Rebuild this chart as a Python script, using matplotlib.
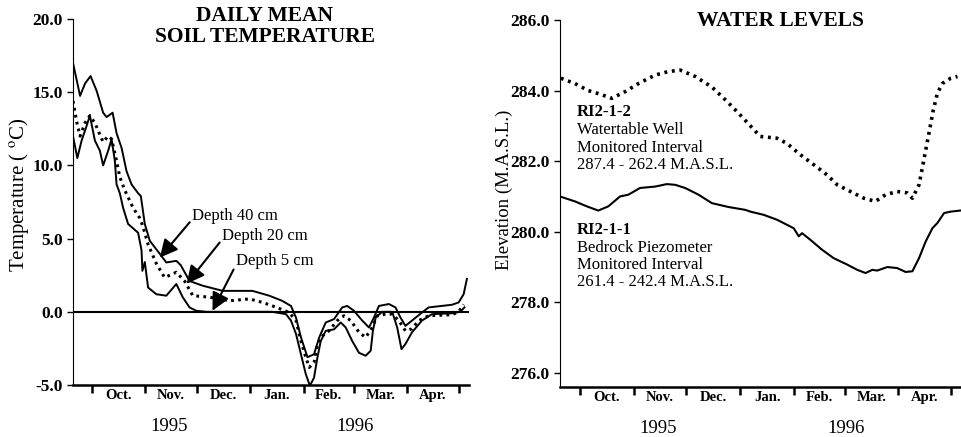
import numpy as np
from matplotlib import pyplot as plt

plt.rcParams['font.family'] = ['Liberation Serif', 'DejaVu Serif']
plt.rcParams['mathtext.fontset'] = 'stix'

# days counted from 1 Oct 1995
month_edges = [0, 31, 61, 92, 123, 152, 183, 213]
month_names = ['Oct.', 'Nov.', 'Dec.', 'Jan.', 'Feb.', 'Mar.', 'Apr.']
years = ['1995', '1996']
year_pos = [45, 153]

# daily mean soil temperature (deg C)
d40_day = [-11, -6.9, -4, -0.8, 2.7, 6.5, 8.5, 12, 14.3, 17.2, 20.1, 23, 26.8, 28.4, 30.7,
           33.6, 39.4, 43.2, 49, 51.5, 56.7, 64.4, 76, 85.6, 93.2, 103, 110.5, 115.6, 118.5,
           121.4, 125.2, 129, 132, 135.8, 140.6, 145.4, 148.3, 152.2, 157, 160.9, 163.8,
           166.7, 172.5, 176.3, 179.2, 182.1, 185.9, 191.7, 195.6, 209.1, 213, 215.9, 217.8]
d40_temp = [17.0, 14.75, 15.6, 16.1, 15.1, 13.6, 13.3, 13.6, 12.2, 11.2, 9.6, 8.7, 8.1, 7.9, 6.0,
            4.85, 3.96, 3.37, 3.48, 3.2, 2.1, 1.78, 1.43, 1.43, 1.43, 1.1, 0.75, 0.4, -0.39,
            -1.75, -3.1, -2.9, -1.75, -0.73, -0.5, 0.3, 0.4, 0.07, -0.6, -1.07, -0.39,
            0.4, 0.53, 0.3, -0.39, -0.96, -0.6, -0.05, 0.3, 0.48, 0.64, 1.2, 2.25]

d20_day = [-11, -8.9, -6.9, -4, -1.2, 1.7, 4.6, 6.5, 9.4, 11.4, 14.3, 16.2, 19.1, 23.9, 27.8,
           29.7, 32.6, 37.4, 42.2, 49, 53.8, 58.6, 68.3, 79.9, 91.4, 99.1, 104.9, 109.8, 114.6,
           118.5, 121.4, 124.2, 126.2, 129, 131, 133.9, 137.7, 142.5, 146.4, 150.3, 155.1, 159,
           162.8, 165.7, 170.5, 174.4, 178.2, 182.1, 185.9, 189.8, 195.6, 209.1, 213, 215.9]
d20_temp = [14.4, 13.0, 12.0, 12.9, 13.4, 12.9, 12.1, 11.6, 12.0, 11.8, 10.3, 9.2, 8.3, 7.1, 6.4,
            5.8, 4.6, 3.3, 2.34, 2.7, 2.1, 1.1, 1.0, 0.75, 0.88, 0.64, 0.4, 0.18, -0.05,
            -0.6, -2.0, -3.1, -3.8, -3.46, -2.2, -1.64, -1.3, -0.6, -0.27, -0.6, -1.4, -1.75,
            -1.07, -0.27, -0.16, -0.16, -0.6, -1.3, -1.16, -0.6, -0.27, -0.2, 0.0, 0.5]

d5_day = [-11, -8.5, -6, -3.1, -1.2, 1.7, 4.6, 6.5, 9.4, 11.4, 13.3, 14.3, 16.2, 18.1, 21,
          26.8, 28.8, 29.3, 30.7, 32.6, 37.4, 43.2, 49, 52.8, 56.7, 60.6, 66.4, 104.7, 112.7,
          115.6, 118.5, 121.4, 124.2, 126.6, 129, 131, 132.9, 135.8, 140.6, 144.5, 147.4,
          151.2, 155.1, 159, 161.9, 163.2, 164.8, 168.6, 174.4, 177.3, 179.8, 182.1, 185.9,
          191.7, 197.5, 209.1, 213.9, 216.4]
d5_temp = [12.0, 10.5, 11.7, 12.7, 13.4, 11.7, 11.0, 10.0, 11.0, 11.8, 10.3, 8.7, 8.1, 7.1, 6.0,
           5.4, 4.2, 2.8, 3.4, 1.66, 1.2, 1.1, 1.9, 0.98, 0.3, 0.07, 0.0, 0.0, -0.16,
           -0.6, -1.5, -2.9, -4.25, -5.05, -4.5, -3.1, -2.0, -1.3, -1.2, -0.73, -1.07,
           -2.0, -2.8, -3.0, -2.66, -1.3, -0.39, 0.0, 0.0, -1.07, -2.55, -2.2, -1.4,
           -0.6, -0.16, -0.1, 0.0, 0.3]

# water levels (m above sea level)
well_day = [-11, -2.9, 4.8, 11.5, 18.2, 25.9, 33.6, 43.2, 50.8, 57.6, 66.2, 75.8, 83.5, 91.1,
            97.9, 103.6, 113.2, 119, 126.7, 134.3, 142, 147.8, 155.4, 163.1, 169.8, 175.6,
            182.3, 188.1, 191, 194.8, 197.6, 200.5, 203, 205.4, 208.2, 213, 216.9]
well_elev = [284.35, 284.2, 284.0, 283.9, 283.78, 283.97, 284.2, 284.44, 284.54, 284.58, 284.4,
             284.1, 283.74, 283.36, 283.0, 282.7, 282.65, 282.5, 282.18, 281.9, 281.61, 281.33,
             281.14, 280.95, 280.86, 281.05, 281.14, 281.1, 280.95, 281.33, 282.04, 282.79,
             283.45, 283.93, 284.2, 284.35, 284.4]

piez_day = [-11.5, -2.9, 3.9, 10.5, 16.3, 23, 27.8, 34.5, 43.2, 49.9, 54.7, 60.4, 68.1, 75.8,
            85.4, 95, 97.9, 105.5, 113.2, 122.8, 125.7, 127.6, 132.4, 139.1, 145.8, 153.5,
            159.3, 164.1, 167.9, 170.8, 176.6, 182.3, 187.1, 191, 194.8, 198.6, 202.5, 205.4,
            209.2, 213, 218.4]
piez_elev = [281.0, 280.86, 280.72, 280.6, 280.72, 281.0, 281.05, 281.24, 281.28, 281.35, 281.33,
             281.24, 281.05, 280.81, 280.7, 280.62, 280.57, 280.48, 280.34, 280.1, 279.87,
             279.96, 279.77, 279.49, 279.25, 279.07, 278.92, 278.83, 278.92, 278.9, 279.0,
             278.97, 278.86, 278.88, 279.25, 279.72, 280.1, 280.25, 280.53, 280.57, 280.6]

fig = plt.figure(figsize=(9.62, 4.37), dpi=100)
ax1 = fig.add_axes([0.0759, 0.119, 0.4116, 0.8375])
ax2 = fig.add_axes([0.5821, 0.1144, 0.4179, 0.8398])

mids = [(month_edges[i] + month_edges[i + 1]) / 2 for i in range(len(month_names))]


def style_axis(ax):
    for s in ['top', 'right']:
        ax.spines[s].set_visible(False)
    ax.spines['left'].set_linewidth(0.8)
    ax.spines['bottom'].set_linewidth(1.8)
    ax.set_xticks(month_edges)
    ax.set_xticklabels([])
    ax.set_xticks(mids, minor=True)
    ax.set_xticklabels(month_names, minor=True, fontsize=10.5, fontweight='bold')
    ax.tick_params(axis='x', which='major', direction='out', length=6, width=1.8)
    ax.tick_params(axis='x', which='minor', length=0, pad=3)
    ax.tick_params(axis='y', direction='out', length=4, width=1, labelsize=12.5)
    for lab in ax.get_yticklabels():
        lab.set_fontweight('bold')
    for yr, pos in zip(years, year_pos):
        ax.annotate(yr, xy=(pos, 0), xycoords=('data', 'axes fraction'),
                    xytext=(0, -30), textcoords='offset points',
                    ha='center', va='center', fontsize=13.5, annotation_clip=False)


# left panel: soil temperature
ax1.plot(d40_day, d40_temp, color='black', lw=1.4)
ax1.plot(d20_day, d20_temp, color='black', lw=2.2, linestyle=(0, (0.9, 1.4)))
ax1.plot(d5_day, d5_temp, color='black', lw=1.4)
ax1.axhline(0, color='black', lw=1.5)
ax1.set_xlim(-11, 219)
ax1.set_ylim(-5, 20)
ax1.set_yticks([-5, 0, 5, 10, 15, 20])
ax1.set_yticklabels(['%.1f' % v for v in [-5, 0, 5, 10, 15, 20]])
style_axis(ax1)
ax1.set_ylabel('Temperature ( $^{\\mathrm{o}}$C)', fontsize=15)
ax1.yaxis.set_label_coords(-0.105, 0.52)

arrow = dict(arrowstyle='-|>,head_length=0.9,head_width=0.45', color='black', lw=1.5,
             shrinkA=0, shrinkB=0, relpos=(0, 0.3))
ax1.annotate('Depth 40 cm', xy=(39.4, 3.7), xytext=(58.4, 6.56), ha='left', va='center',
             fontsize=12, arrowprops=arrow)
ax1.annotate('Depth 20 cm', xy=(55, 1.91), xytext=(75.8, 5.19), ha='left', va='center',
             fontsize=12, arrowprops=arrow)
ax1.annotate('Depth 5 cm', xy=(70, 0.07), xytext=(83.9, 3.48), ha='left', va='center',
             fontsize=12, arrowprops=arrow)

# right panel: water levels
ax2.plot(well_day, well_elev, color='black', lw=2.6, linestyle=(0, (0.8, 1.3)))
ax2.plot(piez_day, piez_elev, color='black', lw=1.5)
ax2.set_xlim(-11.5, 219.5)
ax2.set_ylim(275.6, 286)
ax2.set_yticks([276, 278, 280, 282, 284, 286])
ax2.set_yticklabels(['%.1f' % v for v in [276, 278, 280, 282, 284, 286]])
style_axis(ax2)
ax2.set_ylabel('Elevation (M.A.S.L.)', fontsize=13.5)
ax2.yaxis.set_label_coords(-0.118, 0.537)

ax2.text(-1.7, 283.4, 'RI2-1-2', fontsize=12, fontweight='bold', va='center')
ax2.text(-1.7, 283.1, 'Watertable Well\nMonitored Interval\n287.4 - 262.4 M.A.S.L.',
         fontsize=12, va='top', linespacing=1.1)
ax2.text(-1.7, 280.06, 'RI2-1-1', fontsize=12, fontweight='bold', va='center')
ax2.text(-1.7, 279.78, 'Bedrock Piezometer\nMonitored Interval\n261.4 - 242.4 M.A.S.L.',
         fontsize=12, va='top', linespacing=1.1)

fig.text(0.2755, 0.939, 'DAILY MEAN\nSOIL TEMPERATURE', ha='center', va='center',
         fontsize=15.5, fontweight='bold', linespacing=1.1)
fig.text(0.811, 0.953, 'WATER LEVELS', ha='center', va='center', fontsize=15.5, fontweight='bold')

fig.savefig('out.png', dpi=100)
plt.close(fig)
